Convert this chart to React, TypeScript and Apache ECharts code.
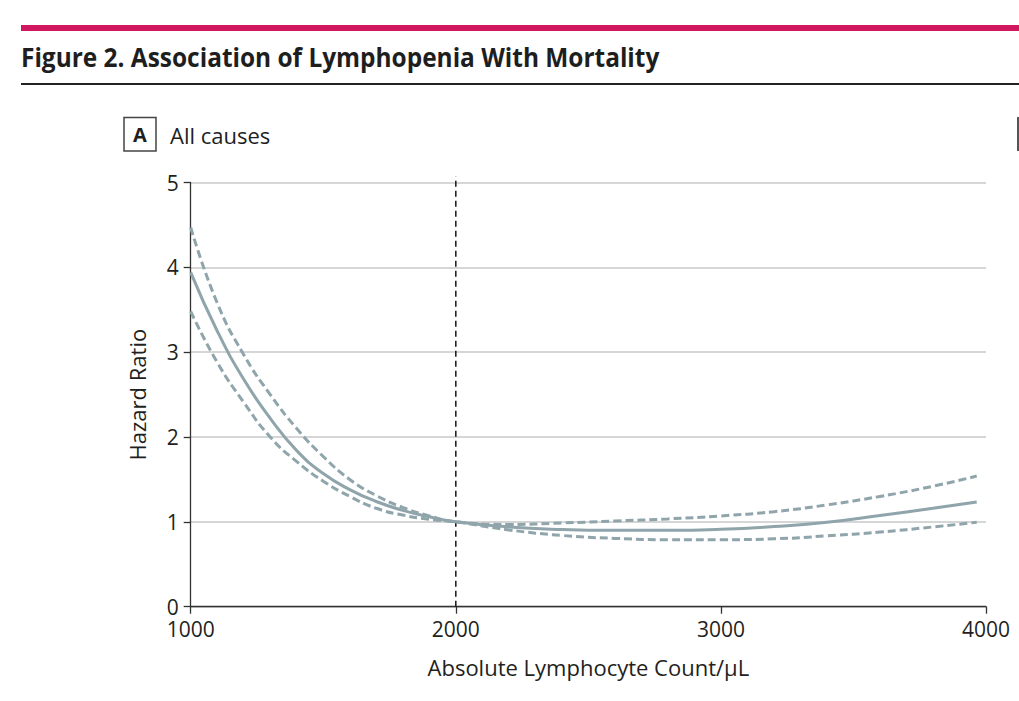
import React, { useEffect, useRef } from "react";
import * as echarts from "echarts";

const TITLE = "Figure 2. Association of Lymphopenia With Mortality";
const PANEL_LETTER = "A";
const PANEL_TITLE = "All causes";
const X_AXIS_NAME = "Absolute Lymphocyte Count/µL";
const Y_AXIS_NAME = "Hazard Ratio";

const lymphocyteCounts = [1000, 1100, 1200, 1300, 1400, 1500, 1600, 1700, 1800, 1900, 2000, 2200, 2400, 2600, 2800, 3000, 3200, 3400, 3600, 3800, 3965];
const hazardRatio = [3.94, 3.25, 2.68, 2.22, 1.84, 1.57, 1.38, 1.24, 1.135, 1.06, 1.0, 0.94, 0.91, 0.9, 0.9, 0.912, 0.945, 0.995, 1.075, 1.16, 1.235];
const upperCI = [4.47, 3.58, 2.97, 2.5, 2.1, 1.77, 1.5, 1.31, 1.17, 1.07, 1.0, 0.97, 0.987, 1.01, 1.035, 1.07, 1.12, 1.2, 1.3, 1.42, 1.54];
const lowerCI = [3.48, 2.88, 2.41, 2.0, 1.71, 1.48, 1.3, 1.16, 1.08, 1.03, 1.0, 0.905, 0.84, 0.805, 0.79, 0.79, 0.8, 0.835, 0.88, 0.94, 0.995];

const REFERENCE_COUNT = 2000;
const REFERENCE_LINE_TOP = 5.07;

const X_MIN = 1000;
const X_MAX = 4000;
const X_INTERVAL = 1000;
const Y_MIN = 0;
const Y_MAX = 5;
const Y_INTERVAL = 1;

const CURVE_COLOR = "#8fa5ab";
const TEXT_COLOR = "#231f20";
const FONT = '"Open Sans", "Noto Sans", sans-serif';

const pairs = (ys: number[]) => lymphocyteCounts.map((x, i) => [x, ys[i]]);

export default function App() {
  const ref = useRef<HTMLDivElement>(null);

  useEffect(() => {
    if (!ref.current) return;
    const chart = echarts.init(ref.current, undefined, { renderer: "svg" });
    chart.setOption({
      animation: false,
      backgroundColor: "#ffffff",
      grid: { left: 190.7, right: 33, top: 182.5, bottom: 94.3, containLabel: false },
      xAxis: {
        type: "value",
        min: X_MIN,
        max: X_MAX,
        interval: X_INTERVAL,
        name: X_AXIS_NAME,
        nameLocation: "middle",
        nameGap: 49,
        nameTextStyle: { fontFamily: FONT, fontSize: 22, color: TEXT_COLOR },
        axisLine: { show: true, onZero: false, lineStyle: { color: "#333", width: 1.3 } },
        axisTick: { show: true, length: 7, lineStyle: { color: "#333", width: 1.3 } },
        axisLabel: {
          fontFamily: FONT,
          fontSize: 21,
          color: TEXT_COLOR,
          margin: 12,
          formatter: (v: number) => String(v),
        },
        splitLine: { show: false },
      },
      yAxis: {
        type: "value",
        min: Y_MIN,
        max: Y_MAX,
        interval: Y_INTERVAL,
        name: Y_AXIS_NAME,
        nameLocation: "middle",
        nameGap: 43,
        nameRotate: 90,
        nameTextStyle: { fontFamily: FONT, fontSize: 22, color: TEXT_COLOR },
        axisLine: { show: true, lineStyle: { color: "#333", width: 1.3 } },
        axisTick: { show: true, length: 7, lineStyle: { color: "#333", width: 1.3 } },
        axisLabel: {
          fontFamily: FONT,
          fontSize: 21,
          color: TEXT_COLOR,
          margin: 12,
          formatter: (v: number) => String(v),
        },
        splitLine: { show: true, lineStyle: { color: "#d6d6d6", width: 2 } },
      },
      series: [
        {
          name: "Reference",
          type: "line",
          data: [[REFERENCE_COUNT, Y_MIN], [REFERENCE_COUNT, REFERENCE_LINE_TOP]],
          showSymbol: false,
          clip: false,
          lineStyle: { color: "#222", width: 1.6, type: [6, 4] },
          z: 1,
        },
        {
          name: "Upper 95% CI",
          type: "line",
          data: pairs(upperCI),
          smooth: 0.5,
          showSymbol: false,
          lineStyle: { color: CURVE_COLOR, width: 3, type: [8, 4] },
          z: 3,
        },
        {
          name: "Lower 95% CI",
          type: "line",
          data: pairs(lowerCI),
          smooth: 0.5,
          showSymbol: false,
          lineStyle: { color: CURVE_COLOR, width: 3, type: [8, 4] },
          z: 3,
        },
        {
          name: "Hazard ratio",
          type: "line",
          data: pairs(hazardRatio),
          smooth: 0.5,
          showSymbol: false,
          lineStyle: { color: CURVE_COLOR, width: 3 },
          z: 4,
        },
      ],
      graphic: [
        {
          type: "rect",
          shape: { x: 21, y: 25, width: 1000, height: 6 },
          style: { fill: "#d1175f" },
        },
        {
          type: "text",
          x: 21,
          y: 57,
          scaleX: 0.94,
          style: {
            text: TITLE,
            fontFamily: FONT,
            fontSize: 26,
            fontWeight: "bold",
            fill: "#1e1e1e",
            textAlign: "left",
            textVerticalAlign: "middle",
          },
        },
        {
          type: "rect",
          shape: { x: 21, y: 83, width: 1000, height: 2 },
          style: { fill: "#222" },
        },
        {
          type: "rect",
          shape: { x: 124, y: 117.5, width: 32, height: 33.5 },
          style: { fill: "#fff", stroke: "#444", lineWidth: 1.5 },
        },
        {
          type: "text",
          x: 140,
          y: 134.5,
          style: {
            text: PANEL_LETTER,
            fontFamily: FONT,
            fontSize: 20,
            fontWeight: "bold",
            fill: "#1e1e1e",
            textAlign: "center",
            textVerticalAlign: "middle",
          },
        },
        {
          type: "text",
          x: 170,
          y: 134.5,
          style: {
            text: PANEL_TITLE,
            fontFamily: FONT,
            fontSize: 22,
            fill: "#1e1e1e",
            textAlign: "left",
            textVerticalAlign: "middle",
          },
        },
        {
          type: "rect",
          shape: { x: 1017, y: 117, width: 2, height: 34 },
          style: { fill: "#555" },
        },
      ],
    });
    return () => chart.dispose();
  }, []);

  return (
    <div
      ref={ref}
      style={{ position: "absolute", left: 0, top: 0, width: 1019, height: 701 }}
    />
  );
}
